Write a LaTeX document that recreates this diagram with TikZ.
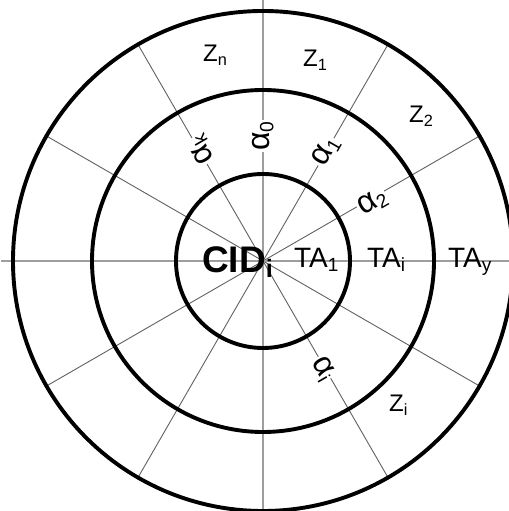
\documentclass[tikz,border=0pt]{standalone}
\usepackage{fontspec}
\usepackage{graphicx}
\usetikzlibrary{calc}
\setmainfont{Liberation Sans}
\newcommand\sbs[1]{\raisebox{-0.13em}{\scalebox{0.68}{#1}}}
\newcommand\asbs[1]{\raisebox{-0.12em}{\scalebox{0.6}{#1}}}
\begin{document}
\begin{tikzpicture}[x=1bp,y=1bp,
  ring/.style={line width=3.9bp,black},
  axisline/.style={line width=1.4bp,black!38},
  diagline/.style={line width=0.9bp,black!62},
  zlab/.style={anchor=base west,inner sep=0pt,font=\fontsize{24bp}{28bp}\selectfont},
  talab/.style={anchor=base west,inner sep=0pt,font=\fontsize{28bp}{32bp}\selectfont},
  alab/.style={fill=white,inner sep=1bp,font=\fontsize{32bp}{36bp}\selectfont},
  cidlab/.style={anchor=base west,inner sep=0pt,font=\fontsize{37bp}{40bp}\selectfont\bfseries}]
\useasboundingbox (0,0) rectangle (509,511);
\clip (0,0) rectangle (509,511);
\fill[white] (0,0) rectangle (509,511);
\coordinate (O) at (263,250);
\foreach \a in {30,60,120,150,210,240,300,330}
  \draw[diagline] (O) -- ++(\a:252) coordinate (d\a);
\foreach \a in {0,90,180,270}
  \draw[axisline] (O) -- ++(\a:262) coordinate (x\a);
\draw[ring] (O) circle (87);
\draw[ring] (O) circle (171);
\draw[ring] (O) circle (250);
% alpha labels
\node[alab,rotate=90]  (a0) at ($(O)+(90:125)$) {α\asbs{0}};
\node[alab,rotate=60]  (a1) at ($(O)+(60:126)$) {α\asbs{1}};
\node[alab,rotate=30]  (a2) at ($(O)+(28:124)$) {α\asbs{2}};
\node[alab,rotate=120] (ak) at ($(O)+(119:127)$) {α\asbs{k}};
\node[alab,rotate=-60] (ai) at ($(O)+(-61:123)$) {α\asbs{i}};
% zone labels
\node[zlab] (zn) at (203,449) {Z\sbs{n}};
\node[zlab] (z1) at (303,444) {Z\sbs{1}};
\node[zlab] (z2) at (409,388) {Z\sbs{2}};
\node[zlab] (zi) at (389,99) {Z\sbs{i}};
% TA labels
\node[talab] (ta1) at (294,243) {TA\sbs{1}};
\node[talab] (tai) at (367,243) {TA\sbs{i}};
\node[talab] (tay) at (448,243) {TA\sbs{y}};
% CID
\node[cidlab] (cid) at (202,238) {CID\sbs{i}};
\end{tikzpicture}
\end{document}
